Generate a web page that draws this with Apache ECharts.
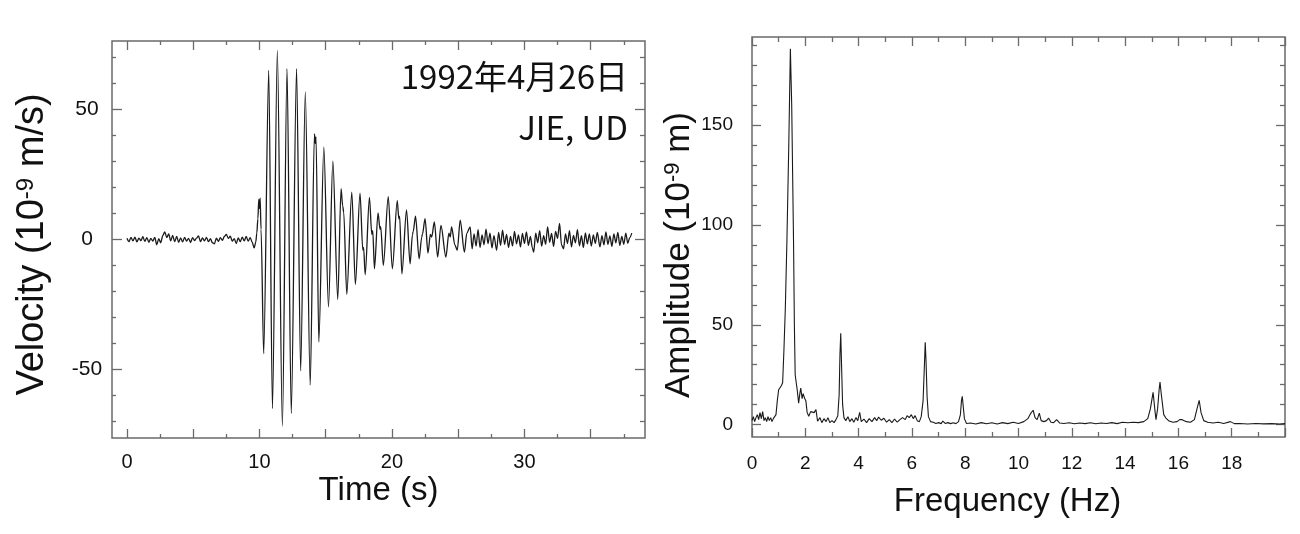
<!DOCTYPE html>
<html>
<head>
<meta charset="utf-8">
<script src="https://cdn.jsdelivr.net/npm/echarts@6/dist/echarts.min.js"></script>
<style>
html,body{margin:0;padding:0;background:#fff;}
#chart{width:1300px;height:534px;}
</style>
</head>
<body>
<div id="chart"></div>
<script>
// ---------- DATA ----------
// Velocity seismogram: [time (s), velocity (1e-9 m/s)]
const preEventTrace = [
  [0,0.5],[0.15,-0.8],[0.3,0.9],[0.45,-0.5],[0.6,1.0],[0.75,-0.9],[0.9,0.6],[1.05,-0.4],[1.2,1.1],[1.35,-0.7],
  [1.5,0.8],[1.65,-1.0],[1.8,0.5],[1.95,-0.6],[2.1,0.9],[2.25,-2.0],[2.4,0.4],[2.55,-1.2],[2.7,1.5],[2.85,3.0],
  [3.0,0.8],[3.15,2.2],[3.3,-0.5],[3.45,1.6],[3.6,-0.8],[3.75,1.2],[3.9,-1.0],[4.05,0.7],[4.2,-0.9],[4.35,0.9],
  [4.5,-0.6],[4.65,0.5],[4.8,-1.1],[4.95,0.8],[5.1,-0.4],[5.25,0.6],[5.4,1.4],[5.55,-0.8],[5.7,0.7],[5.85,-0.5],
  [6.0,0.9],[6.15,-0.8],[6.3,0.4],[6.45,-1.2],[6.6,-1.6],[6.75,0.6],[6.9,-0.7],[7.05,0.8],[7.2,-0.3],[7.35,1.2],
  [7.5,2.0],[7.65,0.5],[7.8,1.3],[7.95,-0.6],[8.1,0.4],[8.25,-1.5],[8.4,0.7],[8.55,-0.8],[8.7,1.0],[8.85,-0.5],
  [9.0,1.2],[9.15,-0.6],[9.3,0.8],[9.45,-1.0],[9.6,-3.2],[9.72,-1.0],[9.8,2.5]
];
const mainShockTrace = [
  [9.88,8],[9.95,15.5],[10.0,12],[10.05,16],[10.12,4],[10.32,-43.9],[10.7,65.1],[10.98,-65],[11.35,72.8],[11.73,-71.8],
  [12.08,65.8],[12.4,-66.9],[12.8,65.8],[13.11,-50.5],[13.46,56.8],[13.83,-56],[14.15,40.7],[14.21,37],[14.27,39.5],[14.48,-39.4],
  [14.86,35.6],[15.21,-25.9],[15.54,30.2],[15.91,-23],[16.16,19.6],[16.28,13],[16.36,10.5],[16.59,-21],[16.97,18.3],[17.24,-17.3],
  [17.59,17.9],[17.8,-4],[17.86,-3],[17.98,-13.5],[18.3,16.2],[18.48,2],[18.55,3.5],[18.68,-11.2],[18.95,10.3],[19.1,4],
  [19.15,5],[19.35,-9.9],[19.72,16.5],[20.03,-11.2],[20.4,15],[20.52,8],[20.58,9],[20.75,-13.2],[21.1,11.4],[21.37,-9.3],
  [21.55,2],[21.6,3],[21.78,9],[22.05,-7.4],[22.25,1],[22.3,2],[22.5,8.1],[22.72,-5.2],[22.9,2],[23.0,1],
  [23.2,6.8],[23.45,-6.7],[23.7,5.5],[24.07,-6.7],[24.3,2.5],[24.4,1],[24.5,4.9],[24.75,-2],[24.93,-4.1],[25.15,7.5],
  [25.47,-4.8]
];
const codaTrace = [
  [25.65,2.5],[25.9,4.9],[26.05,-3.5],[26.2,2.2],[26.35,-2.5],[26.5,3.8],[26.65,-3],[26.8,1.8],[26.95,-2],[27.1,4],
  [27.25,-1.5],[27.4,2.5],[27.55,-3.2],[27.7,1.5],[27.9,-4.1],[28.05,2.8],[28.2,-2.2],[28.35,3.6],[28.5,-1.8],[28.65,2],
  [28.8,-3],[28.95,1.2],[29.1,-2.4],[29.25,3.2],[29.4,-1.6],[29.55,1.8],[29.7,-2.8],[29.85,2.4],[30.0,-1.5],[30.15,3.0],
  [30.3,-2.2],[30.45,1.2],[30.6,-3.2],[30.7,-4.8],[30.85,2.5],[31.0,-1.2],[31.15,3.5],[31.3,-2.5],[31.45,1.5],[31.6,-1.8],
  [31.75,4.9],[31.9,-1],[32.05,2.4],[32.2,-2.6],[32.35,3.2],[32.5,0.5],[32.65,6.2],[32.8,-2],[32.95,-3.5],[33.1,2.2],
  [33.25,-1.5],[33.4,3.5],[33.55,-2.8],[33.7,1.6],[33.85,-1.2],[34.0,3.8],[34.15,-2.4],[34.3,1.5],[34.45,-3],[34.6,2.6],
  [34.75,-1.6],[34.9,2.2],[35.05,-2.5],[35.2,1.8],[35.35,-1.4],[35.5,2.8],[35.7,-2.8],[35.85,1.5],[36.0,-2],[36.15,3],
  [36.3,-1.8],[36.45,1.4],[36.6,-2.6],[36.75,2.2],[36.9,-1.2],[37.05,2.8],[37.2,-2.2],[37.35,1.2],[37.5,-1.8],[37.65,2.5],
  [37.8,-1.4],[37.95,0.8],[38.1,2.5]
];

// Amplitude spectrum: [frequency (Hz), amplitude (1e-9 m)]
const spectrumLow = [
  [0,2],[0.05,4],[0.1,1.5],[0.15,3.5],[0.2,5],[0.25,2.5],[0.3,6],[0.35,3],[0.4,6.5],[0.45,2],
  [0.5,3.5],[0.55,1.5],[0.6,4],[0.65,2],[0.7,3.5],[0.75,1.5],[0.8,3],[0.85,2.5],[0.9,5],[0.95,12],
  [1.0,17.5],[1.05,18],[1.1,19.5],[1.15,21],[1.2,38],[1.25,58],[1.31,92],[1.38,140],[1.44,188.3],[1.49,160],
  [1.53,120],[1.56,90],[1.59,50],[1.62,25],[1.66,21],[1.7,17],[1.75,10.8],[1.8,16],[1.83,18.3],[1.88,13],
  [1.92,15.5],[1.97,13.3],[2.02,12],[2.07,6],[2.13,4.2],[2.2,6.5],[2.26,7.2],[2.33,6],[2.4,7.5],[2.46,1.7],
  [2.55,3.5],[2.62,1]
];
const spectrumMid = [
  [2.7,3],[2.78,1.5],[2.85,3.5],[2.92,1],[3.0,2],[3.08,1],[3.15,2.5],[3.22,4.5],[3.27,15],[3.3,35],
  [3.33,45.8],[3.36,30],[3.4,10],[3.45,3.5],[3.52,2],[3.6,4],[3.67,1.5],[3.75,3],[3.82,1.2],[3.9,3.5],
  [3.97,2],[4.04,6.2],[4.1,1.5],[4.2,2.8],[4.3,1],[4.4,3],[4.5,1.5],[4.6,3.5],[4.68,2],[4.75,3.8],
  [4.85,2.2],[4.95,3.2],[5.05,1.2],[5.15,2.5],[5.25,1],[5.35,2.8],[5.45,1.2],[5.55,2.5],[5.65,3.5],[5.75,2.5],
  [5.82,4.5],[5.9,3.5],[5.98,5],[6.05,3],[6.12,4.5],[6.2,2],[6.28,1.5],[6.35,4],[6.42,12],[6.47,30],
  [6.5,41.3],[6.53,32],[6.57,14],[6.62,4],[6.7,1.5],[6.8,1.2],[6.9,0.6],[7.0,1],[7.1,0.5],[7.16,1.8],
  [7.25,0.6],[7.35,1],[7.45,0.5],[7.55,0.9],[7.65,0.5],[7.75,1.5],[7.82,5],[7.86,12],[7.89,14.2],[7.92,10],
  [7.97,3],[8.05,0.6]
];
const spectrumHigh = [
  [8.2,0.8],[8.4,0.3],[8.6,1.0],[8.8,0.4],[9.0,0.9],[9.2,0.3],[9.4,1.0],[9.6,0.5],[9.8,1.2],[10.0,0.6],
  [10.2,1.5],[10.35,3],[10.45,5.5],[10.55,7.2],[10.62,3.5],[10.7,2.5],[10.78,5.8],[10.85,2],[10.95,1.5],[11.05,2],
  [11.13,3.2],[11.22,1.2],[11.32,1],[11.43,2.5],[11.55,0.8],[11.7,0.6],[11.9,0.9],[12.1,0.4],[12.3,0.8],[12.5,0.5],
  [12.7,0.9],[12.9,0.4],[13.1,0.8],[13.3,0.6],[13.5,1.0],[13.7,0.5],[13.9,1.2],[14.1,0.9],[14.3,1.2],[14.5,1.0],
  [14.7,1.5],[14.85,3],[14.95,8],[15.05,16.2],[15.12,7],[15.16,2.5],[15.22,8],[15.28,18],[15.31,21.3],[15.36,15],
  [15.45,5],[15.53,3.3],[15.65,1.8],[15.8,1.2],[15.95,1.5],[16.05,2.5],[16.14,2.5],[16.3,1.5],[16.45,1.2],[16.6,2.5],
  [16.7,8],[16.78,12.2],[16.85,6],[16.95,2],[17.1,1.2],[17.3,0.8],[17.5,1.2],[17.7,0.6],[17.95,1.5],[18.1,0.5],
  [18.3,0.6],[18.6,0.3],[18.9,0.6],[19.2,0.4],[19.5,0.5],[19.8,0.3],[20.0,0.5]
];

// Axis ticks and labels
const timeTicksMajor = [0,5,10,15,20,25,30,35];
const timeTicksMinor = [2.5,7.5,12.5,17.5,22.5,27.5,32.5,37.5];
const timeLabels = [0,10,20,30];
const velTicksMajor = [-50,0,50];
const velTicksMinor = [-70,-60,-40,-30,-20,-10,10,20,30,40,60,70];
const velLabels = [-50,0,50];
const freqTicksMajor = [0,2,4,6,8,10,12,14,16,18,20];
const freqTicksMinor = [1,3,5,7,9,11,13,15,17,19];
const freqLabels = [0,2,4,6,8,10,12,14,16,18];
const ampTicksMajor = [0,50,100,150];
const ampTicksMinor = [10,20,30,40,60,70,80,90,110,120,130,140,160,170,180,190];
const ampLabels = [0,50,100,150];

const dateText = '1992年4月26日';
const stationText = 'JIE, UD';

// ---------- STYLE ----------
const FRAME = '#6a6a6a';
const INK = '#111';
const SANS = '"Liberation Sans", Arial, sans-serif';
const CJK = '"Noto Sans CJK JP", "Noto Sans", sans-serif';

function axis(gridIndex, min, max, position, ticks, len, extra) {
  return Object.assign({
    type: 'value', gridIndex: gridIndex, min: min, max: max, position: position,
    axisLine: {show: false, onZero: false},
    splitLine: {show: false},
    axisTick: {show: true, inside: true, length: len, customValues: ticks,
               lineStyle: {color: FRAME, width: 1.3}},
    axisLabel: {show: false},
    nameMoveOverlap: false
  }, extra || {});
}

const T_MIN = -1.13, T_MAX = 39.1, V_MIN = -76.3, V_MAX = 76.4;
const F_MIN = 0, F_MAX = 20, A_MIN = -6.2, A_MAX = 194.2;

const xAxes = [
  axis(0, T_MIN, T_MAX, 'bottom', timeTicksMajor, 9, {
    axisLabel: {show: true, customValues: timeLabels, fontSize: 20, color: INK, fontFamily: SANS, margin: 14},
    name: 'Time (s)', nameLocation: 'middle', nameGap: 36,
    nameTextStyle: {fontSize: 33, color: INK, fontFamily: SANS}
  }),
  axis(0, T_MIN, T_MAX, 'bottom', timeTicksMinor, 4),
  axis(0, T_MIN, T_MAX, 'top', timeTicksMajor, 9),
  axis(0, T_MIN, T_MAX, 'top', timeTicksMinor, 4),
  axis(1, F_MIN, F_MAX, 'bottom', freqTicksMajor, 9, {
    axisLabel: {show: true, customValues: freqLabels, fontSize: 19, color: INK, fontFamily: SANS, margin: 17},
    name: 'Frequency (Hz)', nameLocation: 'middle', nameGap: 48,
    nameTextStyle: {fontSize: 33, color: INK, fontFamily: SANS, padding: [0, 22, 0, 0]}
  }),
  axis(1, F_MIN, F_MAX, 'bottom', freqTicksMinor, 5),
  axis(1, F_MIN, F_MAX, 'top', freqTicksMajor, 9),
  axis(1, F_MIN, F_MAX, 'top', freqTicksMinor, 5)
];

function supName(main, sup, rest, size) {
  return {
    name: '{t|' + main + '}{s|' + sup + '}{t|' + rest + '}',
    rich: {
      t: {fontSize: size, color: INK, fontFamily: SANS},
      s: {fontSize: Math.round(size * 0.62), color: INK, fontFamily: SANS, verticalAlign: 'top'}
    }
  };
}
const velName = supName('Velocity (10', '-9', ' m/s)', 38);
const ampName = supName('Amplitude (10', '-9', ' m)', 35);

const yAxes = [
  axis(0, V_MIN, V_MAX, 'left', velTicksMajor, 10, {
    axisLabel: {show: true, customValues: velLabels, fontSize: 21, color: INK, fontFamily: SANS, margin: 25, align: 'center'},
    name: velName.name, nameLocation: 'middle', nameRotate: 90, nameGap: 60,
    nameTextStyle: {rich: velName.rich, padding: [0, 10, 0, 0]}
  }),
  axis(0, V_MIN, V_MAX, 'left', velTicksMinor, 4),
  axis(0, V_MIN, V_MAX, 'right', velTicksMajor, 10),
  axis(0, V_MIN, V_MAX, 'right', velTicksMinor, 5),
  axis(1, A_MIN, A_MAX, 'left', ampTicksMajor, 9, {
    axisLabel: {show: true, customValues: ampLabels, fontSize: 19, color: INK, fontFamily: SANS, margin: 19},
    name: ampName.name, nameLocation: 'middle', nameRotate: 90, nameGap: 55,
    nameTextStyle: {rich: ampName.rich, padding: [0, 36, 0, 0]}
  }),
  axis(1, A_MIN, A_MAX, 'left', ampTicksMinor, 5),
  axis(1, A_MIN, A_MAX, 'right', ampTicksMajor, 9),
  axis(1, A_MIN, A_MAX, 'right', ampTicksMinor, 5)
];

const velocityTrace = preEventTrace.concat(mainShockTrace, codaTrace);
const spectrum = spectrumLow.concat(spectrumMid, spectrumHigh);

const option = {
  animation: false,
  backgroundColor: '#fff',
  grid: [
    {left: 112, top: 41, width: 533, height: 397, show: true, borderColor: FRAME, borderWidth: 1.5, outerBoundsMode: 'none', containLabel: false},
    {left: 752, top: 37, width: 533, height: 400, show: true, borderColor: FRAME, borderWidth: 1.5, outerBoundsMode: 'none', containLabel: false}
  ],
  xAxis: xAxes,
  yAxis: yAxes,
  series: [
    {type: 'line', name: 'Velocity', xAxisIndex: 0, yAxisIndex: 0, data: velocityTrace,
     showSymbol: false, smooth: 0.3, smoothMonotone: 'x', lineStyle: {color: '#1a1a1a', width: 1.3}, silent: true},
    {type: 'line', name: 'Amplitude', xAxisIndex: 4, yAxisIndex: 4, data: spectrum,
     showSymbol: false, smooth: false, lineStyle: {color: '#1a1a1a', width: 1.1}, silent: true}
  ],
  graphic: [
    {type: 'text', x: 628, y: 76, style: {text: dateText, fill: INK, font: '33px ' + CJK, align: 'right', verticalAlign: 'middle'}},
    {type: 'text', x: 628, y: 127, style: {text: stationText, fill: INK, font: '33px ' + CJK, align: 'right', verticalAlign: 'middle'}}
  ]
};

const chart = echarts.init(document.getElementById('chart'), null, {renderer: 'canvas'});
chart.setOption(option);
</script>
</body>
</html>
